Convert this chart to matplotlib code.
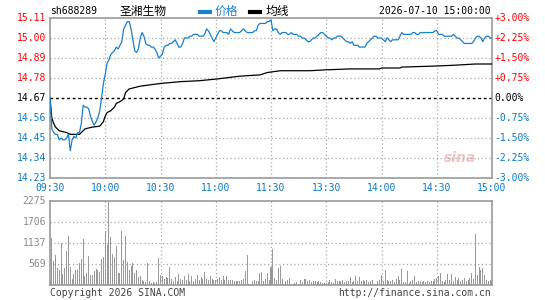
import matplotlib
matplotlib.use("Agg")
import matplotlib.pyplot as plt
import matplotlib.transforms as mtransforms
from matplotlib.lines import Line2D

# minute prices, 09:30-11:30 then 13:01-15:00 (241 points)
price = [
    14.67, 14.50, 14.48, 14.47, 14.47, 14.44, 14.45, 14.44, 14.44, 14.45,
    14.47, 14.38, 14.44, 14.46, 14.45, 14.48, 14.48, 14.53, 14.63, 14.62,
    14.62, 14.61, 14.57, 14.54, 14.52, 14.54, 14.56, 14.60, 14.67, 14.75,
    14.80, 14.86, 14.88, 14.91, 14.92, 14.93, 14.95, 14.94, 14.96, 14.98,
    15.05, 15.07, 15.09, 15.09, 15.05, 14.99, 14.93, 14.92, 14.94, 15.00,
    15.03, 15.01, 14.97, 14.96, 14.96, 14.95, 14.95, 14.94, 14.92, 14.89,
    14.90, 14.91, 14.95, 14.96, 14.96, 14.97, 14.97, 14.98, 14.99, 14.97,
    14.95, 14.95, 14.97, 15.00, 15.00, 15.00, 15.01, 15.01, 15.02, 15.02,
    15.02, 15.01, 15.01, 15.01, 15.02, 15.05, 15.04, 15.02, 15.00, 14.98,
    15.00, 15.02, 15.04, 15.04, 15.03, 15.03, 15.03, 15.02, 15.05, 15.04,
    15.03, 15.03, 15.03, 15.03, 15.04, 15.05, 15.04, 15.03, 15.03, 15.03,
    15.03, 15.04, 15.04, 15.07, 15.08, 15.08, 15.08, 15.08, 15.09, 15.09,
    15.10,
    15.04, 15.05, 15.05, 15.03, 15.02, 15.03, 15.03, 15.03, 15.02,
    15.02, 15.03, 15.02, 15.02, 15.02, 15.01, 15.01, 15.00, 15.00, 14.99,
    14.98, 14.98, 14.99, 15.00, 15.00, 15.01, 15.02, 15.03, 15.03, 15.02,
    15.01, 15.00, 15.00, 14.99, 15.00, 15.00, 15.01, 15.01, 15.01, 15.00,
    14.99, 14.98, 14.98, 14.97, 14.98, 14.96, 14.96, 14.96, 14.95, 14.95,
    14.95, 14.95, 14.97, 14.98, 14.99, 15.00, 15.01, 15.01, 15.00, 15.00,
    15.00, 14.99, 14.98, 15.00, 14.99, 14.98, 14.99, 14.99, 14.99, 14.99,
    15.01, 15.03, 15.02, 15.02, 15.02, 15.02, 15.02, 15.03, 15.03, 15.02,
    15.02, 15.03, 15.03, 15.03, 15.03, 15.03, 15.03, 15.03, 15.03, 15.04,
    15.04, 15.02, 15.02, 15.02, 15.01, 15.01, 15.01, 15.01, 15.01, 15.02,
    15.01, 15.00, 15.00, 14.99, 14.98, 14.97, 14.97, 14.97, 14.97, 14.97,
    14.98, 15.00, 15.01, 15.01, 15.00, 14.98, 15.00, 15.01, 15.01, 15.00, 15.00,
]

# average price line, read at these minute indices
avg_idx = [0, 1, 2, 3, 5, 9, 11, 16, 17, 19, 23, 27, 29, 30, 31, 33, 35, 36,
           38, 40, 41, 43, 49, 60, 71, 81, 91, 103, 114, 118, 125, 141, 150,
           163, 179, 180, 190, 191, 210, 219, 231, 240]
avg_val = [14.67, 14.56, 14.53, 14.51, 14.49, 14.48, 14.47, 14.47, 14.48,
           14.50, 14.51, 14.515, 14.54, 14.57, 14.59, 14.60, 14.62, 14.64,
           14.65, 14.665, 14.70, 14.72, 14.735, 14.75, 14.76, 14.765, 14.775,
           14.79, 14.797, 14.81, 14.82, 14.82, 14.825, 14.83, 14.83, 14.835,
           14.835, 14.84, 14.846, 14.85, 14.857, 14.857]

volume = [
    72, 1282, 650, 813, 470, 406, 1129, 298, 452, 921,
    1327, 497, 163, 298, 406, 406, 587, 704, 1246, 244,
    334, 786, 271, 271, 379, 433, 406, 343, 704, 768,
    1463, 1084, 2257, 1300, 831, 759, 1066, 325, 325, 1463,
    677, 1337, 632, 406, 524, 587, 334, 406, 226, 253,
    135, 108, 90, 587, 108, 63, 72, 54, 90, 740,
    280, 235, 163, 217, 190, 479, 163, 99, 217, 117,
    307, 163, 144, 235, 144, 307, 117, 235, 99, 163,
    262, 144, 226, 172, 343, 163, 144, 253, 172, 126,
    144, 172, 208, 144, 235, 144, 253, 126, 144, 126,
    99, 99, 99, 99, 144, 163, 388, 822, 36, 36,
    99, 144, 99, 99, 325, 343, 99, 163, 325, 144,
    488,
    975, 181, 144, 452, 524, 172, 36, 99, 126,
    199, 36, 36, 54, 72, 36, 144, 72, 163, 163,
    99, 126, 72, 99, 99, 72, 117, 72, 54, 54,
    54, 72, 144, 72, 54, 163, 99, 99, 99, 126,
    72, 117, 99, 217, 72, 99, 235, 99, 217, 99,
    126, 99, 144, 72, 117, 144, 36, 36, 99, 144,
    280, 99, 397, 126, 99, 117, 126, 72, 163, 235,
    144, 434, 72, 72, 388, 54, 99, 126, 235, 72,
    117, 99, 72, 99, 72, 99, 72, 117, 99, 163,
    190, 235, 325, 99, 72, 144, 307, 144, 307, 99,
    217, 144, 190, 99, 126, 190, 99, 144, 190, 325,
    163, 1391, 280, 488, 415, 461, 280, 144, 99, 144, 99,
]

prev_close = 14.67
price_levels = [15.11, 15.00, 14.89, 14.78, 14.67, 14.56, 14.45, 14.34, 14.23]
pct_labels = ["+3.00%", "+2.25%", "+1.50%", "+0.75%", "0.00%",
              "-0.75%", "-1.50%", "-2.25%", "-3.00%"]
time_ticks = [0, 30, 60, 90, 120, 150, 180, 210, 240]
time_labels = ["09:30", "10:00", "10:30", "11:00", "11:30",
               "13:30", "14:00", "14:30", "15:00"]
vol_levels = [2275, 1706, 1137, 569]

RED = "#ff0000"
BLUE = "#0b78c8"
LINE_BLUE = "#1a80cc"
GRID = "#aaaaaa"
FRAME = "#999999"
MONO = "DejaVu Sans Mono"
CJK = ["Noto Sans CJK SC", "DejaVu Sans"]

W, H = 545, 300
fig = plt.figure(figsize=(W / 100, H / 100), dpi=100)
fig.patch.set_facecolor("white")

left, right = 50, 492
ax = fig.add_axes([left / W, 1 - 178 / H, (right - left) / W, 160 / H])
axv = fig.add_axes([left / W, 1 - 285 / H, (right - left) / W, 84 / H])

dotted = (0, (1, 2))
for a in (ax, axv):
    a.set_xlim(0, 240)
    a.set_xticks([])
    a.set_yticks([])
    for s in a.spines.values():
        s.set_color(FRAME)
        s.set_linewidth(1.2)
    for t in time_ticks[1:-1]:
        a.axvline(t, color=GRID, lw=0.9, ls=dotted, zorder=1)

# price panel
ax.set_ylim(price_levels[-1], price_levels[0])
for lv in price_levels[1:-1]:
    if lv == prev_close:
        ax.axhline(lv, color="black", lw=1.0, ls=(0, (2, 2)), zorder=2)
    else:
        ax.axhline(lv, color=GRID, lw=0.9, ls=dotted, zorder=1)

ax.plot(range(len(price)), price, color=LINE_BLUE, lw=0.9, zorder=4)
ax.plot(avg_idx, avg_val, color="black", lw=0.9, zorder=3)

tl = mtransforms.blended_transform_factory(ax.transAxes, ax.transData)
for lv, pl in zip(price_levels, pct_labels):
    if lv > prev_close:
        c = RED
    elif lv == prev_close:
        c = "black"
    else:
        c = BLUE
    ax.text(-0.009, lv, f"{lv:.2f}", transform=tl, ha="right", va="center",
            color=c, fontsize=7, family=MONO)
    ax.text(1.005, lv, pl, transform=tl, ha="left", va="center",
            color=c, fontsize=7, family=MONO)

tb = mtransforms.blended_transform_factory(ax.transData, ax.transAxes)
for t, lab in zip(time_ticks, time_labels):
    ax.text(t, -10 / 160, lab, transform=tb, ha="center", va="center",
            color=BLUE, fontsize=7, family=MONO)

# sina watermark
ax.text(0.965, 0.08, "sina", transform=ax.transAxes, ha="right", va="bottom",
        color="#f0c4c4", fontsize=10, fontstyle="italic", fontweight="bold",
        zorder=0)

# volume panel
axv.set_ylim(0, 2275)
for lv in vol_levels[1:]:
    axv.axhline(lv, color=GRID, lw=0.9, ls=dotted, zorder=1)
axv.bar(range(len(volume)), volume, width=0.55, color="#999999", lw=0,
        antialiased=False, zorder=3)
tv = mtransforms.blended_transform_factory(axv.transAxes, axv.transData)
for lv in vol_levels:
    axv.text(-0.009, lv, str(lv), transform=tv, ha="right", va="center",
             color="#888888", fontsize=7, family=MONO)

# header
hy = 1 - 11.5 / H
fig.text(50 / W, hy, "sh688289", ha="left", va="center", fontsize=7,
         family=MONO, color="black")
fig.text(120 / W, hy, "圣湘生物", ha="left", va="center", fontsize=8.5,
         family=CJK, color="black")
fig.add_artist(Line2D([200 / W, 210 / W], [hy, hy], color=LINE_BLUE, lw=3))
fig.text(215 / W, hy, "价格", ha="left", va="center", fontsize=8.5,
         family=CJK, color=LINE_BLUE)
fig.add_artist(Line2D([250 / W, 260 / W], [hy, hy], color="black", lw=3))
fig.text(266 / W, hy, "均线", ha="left", va="center", fontsize=8.5,
         family=CJK, color="black")
fig.text(491 / W, hy, "2026-07-10 15:00:00", ha="right", va="center",
         fontsize=7, family=MONO, color="black")

# footer
fy = 1 - 292.5 / H
fig.text(50 / W, fy, "Copyright 2026 SINA.COM", ha="left", va="center",
         fontsize=7, family=MONO, color="#444444")
fig.text(491 / W, fy, "http://finance.sina.com.cn", ha="right", va="center",
         fontsize=7, family=MONO, color="#444444")

fig.savefig("out.png", dpi=100, facecolor="white")
